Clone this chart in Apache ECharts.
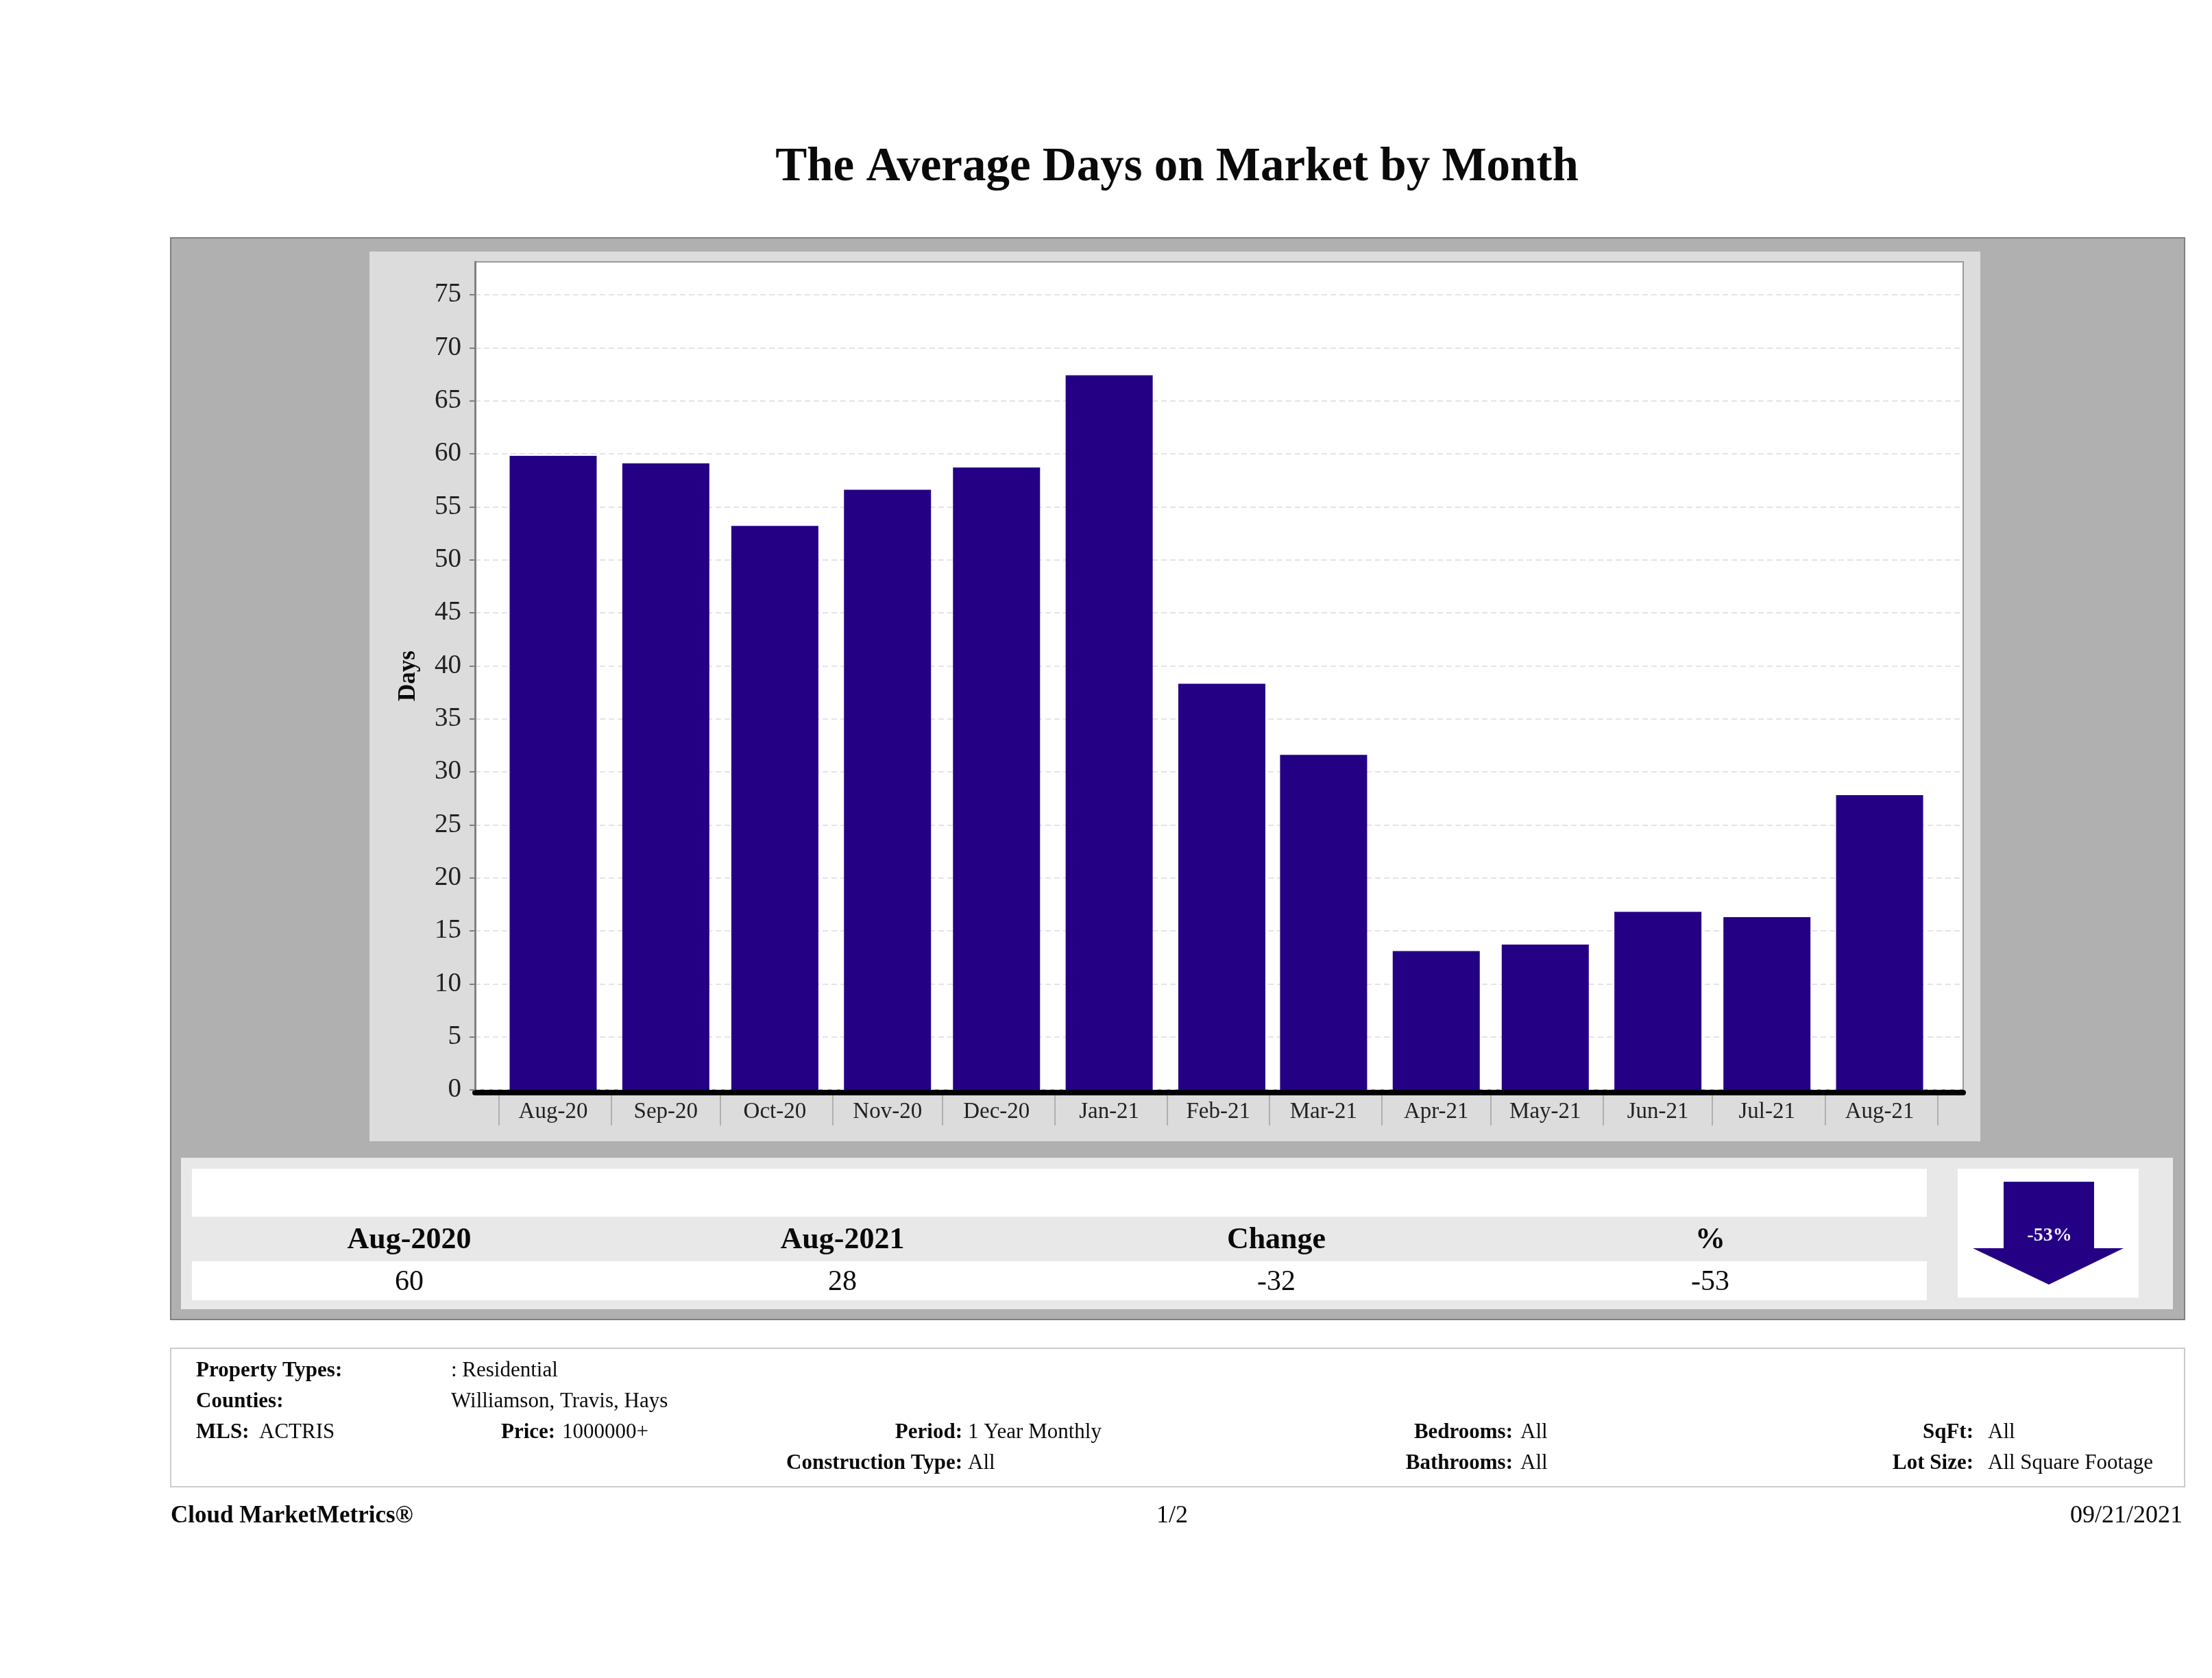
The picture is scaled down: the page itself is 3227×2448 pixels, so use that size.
<!DOCTYPE html>
<html>
<head>
<meta charset="utf-8">
<style>html,body{margin:0;padding:0;background:#fff}#c{width:3227px;height:2448px}</style>
<script src="https://cdn.jsdelivr.net/npm/echarts@6/dist/echarts.min.js"></script>
</head>
<body>
<div id="c"></div>
<script>
var titleText = 'The Average Days on Market by Month';
var months = ['Aug-20','Sep-20','Oct-20','Nov-20','Dec-20','Jan-21','Feb-21','Mar-21','Apr-21','May-21','Jun-21','Jul-21','Aug-21'];
var barDates = ['2020-08-16','2020-09-16','2020-10-16','2020-11-16','2020-12-16','2021-01-16','2021-02-16','2021-03-16','2021-04-16','2021-05-16','2021-06-16','2021-07-16','2021-08-16'];
var labelDates = ['2020-08-16','2020-09-16','2020-10-16','2020-11-16','2020-12-16','2021-01-16','2021-02-15','2021-03-16','2021-04-16','2021-05-16','2021-06-16','2021-07-16','2021-08-16'];
var monthStarts = ['2020-08-01','2020-09-01','2020-10-01','2020-11-01','2020-12-01','2021-01-01','2021-02-01','2021-03-01','2021-04-01','2021-05-01','2021-06-01','2021-07-01','2021-08-01','2021-09-01'];
var daysOnMarket = [59.8,59.1,53.2,56.6,58.7,67.4,38.3,31.6,13.1,13.7,16.8,16.3,27.8];
var yTicks = [0,5,10,15,20,25,30,35,40,45,50,55,60,65,70,75];
var summaryHeads = ['Aug-2020','Aug-2021','Change','%'];
var summaryVals = ['60','28','-32','-53'];
var arrowLabel = '-53%';

var FONT = '"Liberation Serif", serif';
var INK = '#0a0a0a';
var INDIGO = '#240085';
var ts = function (s) { return Date.parse(s); };
var labelMap = {};
labelDates.forEach(function (d, i) { labelMap[ts(d)] = months[i]; });

function rect(x, y, w, h, fill, stroke, lw) {
  return { type: 'rect', z: -5, silent: true, shape: { x: x, y: y, width: w, height: h },
    style: { fill: fill, stroke: stroke || null, lineWidth: lw || 0 } };
}
function text(str, x, y, size, bold, align, color) {
  return { type: 'text', z: 20, silent: true, x: x, y: y,
    style: { text: str, font: (bold ? 'bold ' : '') + size + 'px ' + FONT, fill: color || INK,
      textAlign: align || 'left', textVerticalAlign: 'middle' } };
}

var gfx = [
  rect(249, 347, 2938, 1578, '#b0b0b0', '#808080', 2),
  rect(539, 367, 2350, 1298, '#dcdcdc'),
  rect(264, 1689, 2906, 221, '#e8e8e8'),
  rect(280, 1705, 2531, 70, '#ffffff'),
  rect(280, 1840, 2531, 57, '#ffffff'),
  rect(2856, 1705, 264, 188, '#ffffff'),
  { type: 'polygon', z: -4, silent: true,
    shape: { points: [[2923,1724],[3055,1724],[3055,1821],[3098,1821],[2989,1874],[2878,1821],[2923,1821]] },
    style: { fill: INDIGO } },
  rect(249, 1967, 2938, 202, '#ffffff', '#cccccc', 2),
  text(titleText, 1717, 245, 69, true, 'center'),
  text(arrowLabel, 2990, 1803, 28, true, 'center', '#f4f0ff')
];
var sumX = [597, 1229, 1862, 2495];
summaryHeads.forEach(function (h, i) { gfx.push(text(h, sumX[i], 1810, 44, true, 'center')); });
summaryVals.forEach(function (v, i) { gfx.push(text(v, sumX[i], 1871, 42, false, 'center')); });

var info = [
  ['Property Types:', 286, 2000, true, 'left'], [': Residential', 658, 2000, false, 'left'],
  ['Counties:', 286, 2045, true, 'left'], ['Williamson, Travis, Hays', 658, 2045, false, 'left'],
  ['MLS:', 286, 2090, true, 'left'], ['ACTRIS', 378, 2090, false, 'left'],
  ['Price:', 731, 2090, true, 'left'], ['1000000+', 820, 2090, false, 'left'],
  ['Period:', 1404, 2090, true, 'right'], ['1 Year Monthly', 1412, 2090, false, 'left'],
  ['Construction Type:', 1404, 2135, true, 'right'], ['All', 1412, 2135, false, 'left'],
  ['Bedrooms:', 2207, 2090, true, 'right'], ['All', 2218, 2090, false, 'left'],
  ['Bathrooms:', 2207, 2135, true, 'right'], ['All', 2218, 2135, false, 'left'],
  ['SqFt:', 2879, 2090, true, 'right'], ['All', 2900, 2090, false, 'left'],
  ['Lot Size:', 2879, 2135, true, 'right'], ['All Square Footage', 2900, 2135, false, 'left']
];
info.forEach(function (r) { gfx.push(text(r[0], r[1], r[2], 31, r[3], r[4])); });
gfx.push(text('Cloud MarketMetrics\u00ae', 249, 2212, 35, true, 'left'));
gfx.push(text('1/2', 1710, 2212, 36, false, 'center'));
gfx.push(text('09/21/2021', 3184, 2212, 36, false, 'right'));

var xMin = ts('2020-07-25T12:00:00Z'), xMax = ts('2021-09-08');
var chart = echarts.init(document.getElementById('c'), null, { renderer: 'canvas' });
chart.setOption({
  animation: false,
  backgroundColor: '#ffffff',
  graphic: { elements: gfx },
  grid: { left: 693, top: 382, right: 363, bottom: 858, show: true, backgroundColor: '#ffffff', borderColor: '#9a9a9a', borderWidth: 2 },
  xAxis: [
    { type: 'value', min: xMin, max: xMax, offset: 4, position: 'bottom', scale: true,
      axisLine: { show: true, onZero: false, lineStyle: { color: '#000', width: 8 } },
      axisTick: { show: false }, axisLabel: { show: false }, splitLine: { show: false } },
    { type: 'value', min: xMin, max: xMax, offset: 8, position: 'bottom', scale: true,
      axisLine: { show: false, onZero: false },
      axisTick: { show: true, length: 44, inside: false, customValues: monthStarts.map(ts), lineStyle: { color: '#b0b0b0', width: 2 } },
      axisLabel: { show: true, margin: 8, customValues: labelDates.map(ts), hideOverlap: false, showMinLabel: true, showMaxLabel: true,
        color: '#222', fontFamily: FONT, fontSize: 33,
        formatter: function (v) { return labelMap[v] || ''; } },
      splitLine: { show: false } }
  ],
  yAxis: {
    type: 'value', min: 0, max: 78.1, interval: 5, position: 'left',
    name: 'Days', nameLocation: 'middle', nameGap: 80, nameRotate: 90,
    nameTextStyle: { fontFamily: FONT, fontSize: 35, fontWeight: 'bold', color: INK },
    axisLine: { show: true, onZero: false, lineStyle: { color: '#808080', width: 3 } },
    axisTick: { show: true, length: 8, customValues: yTicks, lineStyle: { color: '#808080', width: 2 } },
    axisLabel: { show: true, margin: 20, customValues: yTicks, color: '#222', fontFamily: FONT, fontSize: 39 },
    splitLine: { show: true, lineStyle: { color: '#e4e4e4', width: 2, type: [8, 5] } }
  },
  series: [{
    type: 'bar', xAxisIndex: 0, yAxisIndex: 0, barWidth: 127, clip: false,
    itemStyle: { color: INDIGO },
    data: barDates.map(function (d, i) { return [ts(d), daysOnMarket[i]]; })
  }]
});
</script>
</body>
</html>
